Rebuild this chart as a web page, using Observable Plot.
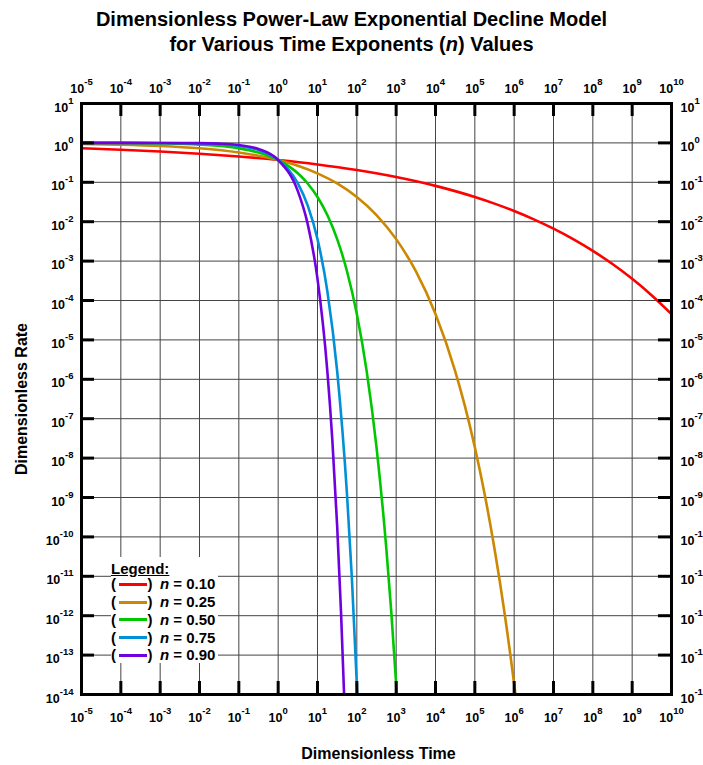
<!DOCTYPE html>
<html>
<head>
<meta charset="utf-8">
<script src="https://cdn.jsdelivr.net/npm/d3@7"></script>
<script src="https://cdn.jsdelivr.net/npm/@observablehq/plot@0.6"></script>
<style>
  body { margin: 0; background: #fff; font-family: "Liberation Sans", Arial, sans-serif; }
  #wrap { position: relative; width: 703px; height: 765px; overflow: hidden; background: #fff; }
  #title { position: absolute; left: 0; top: 7px; width: 703px; text-align: center; font-weight: bold; font-size: 20px; line-height: 25px; color: #000; }
  #chart { position: absolute; left: 0; top: 60px; }
  #legend { position: absolute; left: 111px; top: 557px; width: 107px; height: 106px; background: #fff; font-weight: bold; font-size: 15px; color: #000; }
  #legend .row { position: absolute; left: 0; height: 18px; line-height: 18px; width: 107px; white-space: nowrap; }
  #legend .seg { position: absolute; left: 8px; top: 7.6px; width: 28px; height: 3px; }
  #legend .lp { position: absolute; left: 0; }
  #legend .rp { position: absolute; left: 36.5px; }
  #legend .lab { position: absolute; left: 49px; }
</style>
</head>
<body>
<div id="wrap">
  <div id="title">Dimensionless Power-Law Exponential Decline Model<br>for Various Time Exponents (<i>n</i>) Values</div>
  <div id="chart"></div>
  <div id="legend"></div>
</div>
<script>
// ---- tick labels (decade exponents) ----
const xTickExps = [-5, -4, -3, -2, -1, 0, 1, 2, 3, 4, 5, 6, 7, 8, 9, 10];
const yTickExps = [1, 0, -1, -2, -3, -4, -5, -6, -7, -8, -9, -10, -11, -12, -13, -14];
const leftTickLabels  = ["1","0","-1","-2","-3","-4","-5","-6","-7","-8","-9","-10","-11","-12","-13","-14"];
const rightTickLabels = ["1","0","-1","-2","-3","-4","-5","-6","-7","-8","-9","-1","-1","-1","-1","-1"];
const xTickLabels = ["-5","-4","-3","-2","-1","0","1","2","3","4","5","6","7","8","9","10"];

// ---- series (time exponent n) ----
const seriesN = ["0.10", "0.25", "0.50", "0.75", "0.90"];
const seriesColors = ["#ff0000", "#cc8800", "#00c800", "#0090d8", "#7000e0"];

// n = 0.10
const tN010 = [1e-5, 1e-4, 1e-3, 1e-2, 1e-1, 1, 1e1, 1e2, 1e3, 1e4, 1e5, 3.162e5, 1e6, 3.162e6, 1e7, 3.162e7, 1e8, 3.162e8, 1e9, 3.162e9, 1e10];
const qN010 = [0.7289, 0.6716, 0.6058, 0.5321, 0.4519, 0.3679, 0.2840, 0.2050, 0.1360, 0.0811, 0.04233, 0.02877, 0.01867, 0.01148, 0.006658, 0.003612, 0.001819, 8.42e-4, 3.550e-4, 1.346e-4, 4.540e-5];
// n = 0.25
const tN025 = [1e-5, 1e-4, 1e-3, 1e-2, 1e-1, 0.3162, 1, 3.162, 10, 31.62, 100, 316.2, 1e3, 3162, 1e4, 31623, 56234, 1e5, 177828, 316228, 562341, 1e6, 1.08e6];
const qN025 = [0.9453, 0.9048, 0.8371, 0.7289, 0.5699, 0.4724, 0.3679, 0.2636, 0.1689, 0.09335, 0.04233, 0.01474, 0.003612, 5.537e-4, 4.540e-5, 1.617e-6, 2.052e-7, 1.892e-8, 1.207e-9, 5.026e-11, 1.28e-12, 1.846e-14, 1e-14];
// n = 0.50
const tN050 = [1e-5, 1e-4, 1e-3, 1e-2, 1e-1, 0.3162, 1, 3.162, 5.623, 10, 17.78, 31.62, 56.23, 100, 177.8, 316.2, 562.3, 749.9, 1000, 1039];
const qN050 = [0.99684, 0.99005, 0.96887, 0.90484, 0.72894, 0.56990, 0.36788, 0.16892, 0.09335, 0.04233, 0.014742, 0.0036123, 5.537e-4, 4.540e-5, 1.617e-6, 1.892e-8, 5.026e-11, 1.28e-12, 1.846e-14, 1e-14];
// n = 0.75
const tN075 = [1e-5, 1e-4, 1e-3, 1e-2, 0.03162, 0.1, 0.3162, 1, 3.162, 5.623, 10, 17.78, 31.62, 56.23, 74.99, 100, 102.6];
const qN075 = [0.99982, 0.99900, 0.99439, 0.96887, 0.92775, 0.83708, 0.65593, 0.36788, 0.09335, 0.02595, 0.0036123, 1.735e-4, 1.617e-6, 1.207e-9, 8.57e-12, 1.846e-14, 1e-14];
// n = 0.90
const tN090 = [1e-5, 1e-4, 1e-3, 1e-2, 0.03162, 0.1, 0.3162, 1, 3.162, 5.623, 10, 17.78, 23.71, 31.62, 39.81, 47.43];
const qN090 = [0.99997, 0.99975, 0.99801, 0.98428, 0.95631, 0.88172, 0.70132, 0.36788, 0.059701, 8.81e-3, 3.550e-4, 1.617e-6, 3.13e-8, 1.894e-10, 1.093e-12, 1e-14];

const seriesT = [tN010, tN025, tN050, tN075, tN090];
const seriesQ = [qN010, qN025, qN050, qN075, qN090];

// ---- build tables ----
const curves = seriesN.map((n, s) => seriesT[s].map((t, i) => ({n, t, q: seriesQ[s][i]})));
const xTicks = xTickExps.map((e, i) => ({v: Math.pow(10, e), label: xTickLabels[i]}));
const yTicks = yTickExps.map((e, i) => ({v: Math.pow(10, e), left: leftTickLabels[i], right: rightTickLabels[i]}));
const xInner = xTicks.slice(1, -1);
const yInner = yTicks.slice(1, -1);

const W = 703, Hs = 705, mT = 43, mB = 71, mL = 81, mR = 32;
const innerW = W - mL - mR, innerH = Hs - mT - mB;
const tickLen = 13;
const fs = 12.5;

const chart = Plot.plot({
  width: W, height: Hs,
  marginTop: mT, marginBottom: mB, marginLeft: mL, marginRight: mR,
  style: {fontFamily: "'Liberation Sans', Arial, sans-serif", background: "transparent", overflow: "visible", color: "black"},
  x: {type: "log", domain: [1e-5, 1e10], axis: null},
  y: {type: "log", domain: [1e-14, 10], axis: null},
  marks: [
    // grid
    Plot.ruleX(xInner, {x: "v", stroke: "#444", strokeWidth: 1}),
    Plot.ruleY(yInner, {y: "v", stroke: "#444", strokeWidth: 1}),
    // curves
    ...curves.map((c, s) => Plot.line(c, {x: "t", y: "q", stroke: seriesColors[s], strokeWidth: 2.6, curve: "monotone-x", clip: true})),
    // inward ticks
    Plot.ruleX(xInner, {x: "v", stroke: "black", strokeWidth: 3, insetTop: innerH - tickLen}),
    Plot.ruleX(xInner, {x: "v", stroke: "black", strokeWidth: 3, insetBottom: innerH - tickLen}),
    Plot.ruleY(yInner, {y: "v", stroke: "black", strokeWidth: 3, insetRight: innerW - tickLen}),
    Plot.ruleY(yInner, {y: "v", stroke: "black", strokeWidth: 3, insetLeft: innerW - tickLen}),
    Plot.frame({stroke: "black", strokeWidth: 3}),
    // tick labels
    Plot.text(xTicks, {x: "v", text: "label", frameAnchor: "bottom", lineAnchor: "bottom", dy: 27, fontSize: fs, fontWeight: "bold", fill: "black"}),
    Plot.text(xTicks, {x: "v", text: "label", frameAnchor: "top", lineAnchor: "bottom", dy: -11, fontSize: fs, fontWeight: "bold", fill: "black"}),
    Plot.text(yTicks, {y: "v", text: "left", frameAnchor: "left", textAnchor: "end", lineAnchor: "bottom", dx: -8, dy: 8, fontSize: fs, fontWeight: "bold", fill: "black"}),
    Plot.text(yTicks, {y: "v", text: "right", frameAnchor: "right", textAnchor: "start", lineAnchor: "bottom", dx: 9, dy: 8, fontSize: fs, fontWeight: "bold", fill: "black"}),
    // axis titles
    Plot.text(["Dimensionless Time"], {text: d => d, frameAnchor: "bottom", textAnchor: "middle", lineAnchor: "bottom", dx: 2, dy: 64, fontSize: 16, fontWeight: "bold", fill: "black"}),
    Plot.text(["Dimensionless Rate"], {text: d => d, frameAnchor: "left", textAnchor: "middle", rotate: -90, dx: -60, fontSize: 16, fontWeight: "bold", fill: "black"})
  ]
});

// turn exponent labels into 10^e with a superscript
const SVGNS = "http://www.w3.org/2000/svg";
chart.querySelectorAll("text").forEach(el => {
  const e = el.textContent;
  if (/^-?\d+$/.test(e)) {
    el.textContent = "";
    const a = document.createElementNS(SVGNS, "tspan");
    a.textContent = "10";
    const b = document.createElementNS(SVGNS, "tspan");
    b.setAttribute("dy", "-8");
    b.setAttribute("font-size", "9.5");
    b.textContent = e;
    el.append(a, b);
  }
});
document.getElementById("chart").append(chart);

// legend
const legend = d3.select("#legend");
legend.append("div").attr("class", "row").style("top", "2.5px")
  .append("span").style("text-decoration", "underline").text("Legend:");
seriesN.forEach((n, i) => {
  const row = legend.append("div").attr("class", "row").style("top", (18.2 + i * 17.8) + "px");
  row.append("span").attr("class", "lp").text("(");
  row.append("span").attr("class", "seg").style("background", seriesColors[i]);
  row.append("span").attr("class", "rp").text(")");
  const lab = row.append("span").attr("class", "lab");
  lab.append("i").text("n");
  lab.append("span").text(" = " + n);
});
</script>
</body>
</html>
